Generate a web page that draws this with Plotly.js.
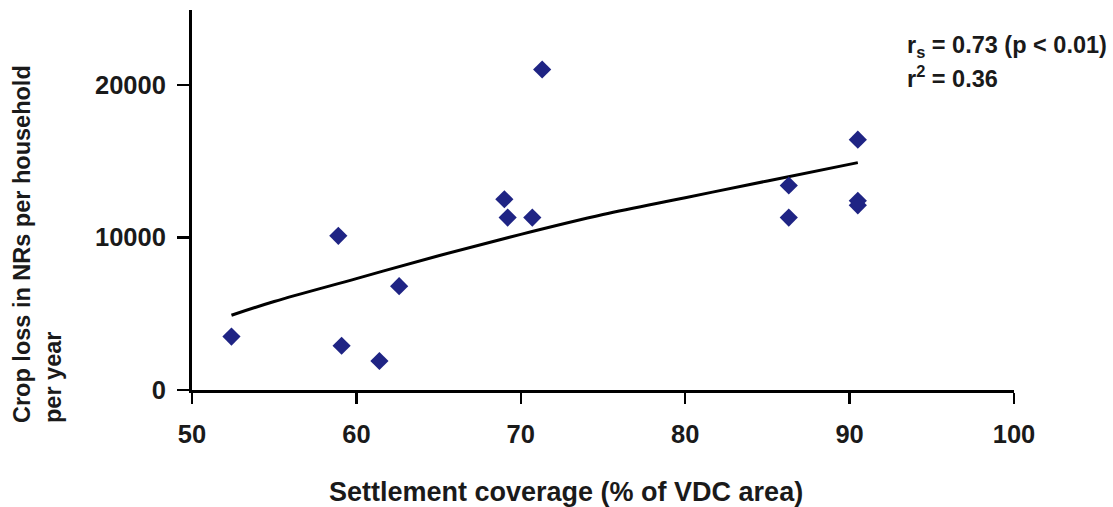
<!DOCTYPE html>
<html>
<head>
<meta charset="utf-8">
<script src="https://cdn.plot.ly/plotly-3.0.1.min.js"></script>
<style>html,body{margin:0;padding:0;background:#fff;}#chart{width:1113px;height:507px;}</style>
</head>
<body>
<div id="chart"></div>
<script>
// Observed points: settlement coverage (% of VDC area) vs crop loss (NRs per household per year)
var coverage = [52.4, 58.9, 59.1, 61.4, 62.6, 69.0, 69.2, 70.7, 71.3, 86.3, 86.3, 90.5, 90.5, 90.5];
var cropLoss = [3500, 10100, 2900, 1900, 6800, 12500, 11300, 11300, 21000, 13400, 11300, 16400, 12100, 12400];

// Fitted trend curve
var trendX = [52.4, 55, 60, 65, 70, 75, 80, 85, 90.5];
var trendY = [4900, 5800, 7300, 8800, 10200, 11500, 12600, 13700, 14900];

var xTicks = [50, 60, 70, 80, 90, 100];
var yTicks = [0, 10000, 20000];

var xTitle = 'Settlement coverage (% of VDC area)';
var yTitle = 'Crop loss in NRs per household<br>per year';
var statLine1 = 'r<sub>s</sub> = 0.73 (p &lt; 0.01)';
var statLine2 = 'r<sup>2</sup> = 0.36';

var FONT = 'Liberation Sans, Arial, Helvetica, sans-serif';
var TXT = '#1a1a1a';

function bold(s) { return '<b>' + s + '</b>'; }

var traces = [
  {
    x: trendX, y: trendY, type: 'scatter', mode: 'lines',
    line: {color: '#000000', width: 3, shape: 'spline'},
    hoverinfo: 'skip', showlegend: false
  },
  {
    x: coverage, y: cropLoss, type: 'scatter', mode: 'markers',
    marker: {symbol: 'diamond', size: 14, color: '#1f2484', line: {width: 0}},
    showlegend: false
  }
];

var layout = {
  width: 1113, height: 507,
  margin: {l: 192, r: 99, t: 10, b: 117, pad: 0},
  paper_bgcolor: '#ffffff', plot_bgcolor: '#ffffff',
  showlegend: false,
  font: {family: FONT, color: TXT},
  xaxis: {
    range: [50, 100], tickvals: xTicks, ticktext: xTicks.map(function (v) { return bold(String(v)); }),
    showline: true, linecolor: '#000000', linewidth: 3,
    ticks: 'outside', ticklen: 11, tickwidth: 2.5, tickcolor: '#000000',
    showgrid: false, zeroline: false,
    ticklabelstandoff: 8,
    tickfont: {family: FONT, size: 25.5, color: TXT},
    fixedrange: true
  },
  yaxis: {
    range: [0, 24900], tickvals: yTicks, ticktext: yTicks.map(function (v) { return bold(String(v)); }),
    showline: true, linecolor: '#000000', linewidth: 3,
    ticks: 'outside', ticklen: 12, tickwidth: 2.5, tickcolor: '#000000',
    showgrid: false, zeroline: false,
    ticklabelstandoff: 6,
    tickfont: {family: FONT, size: 25.5, color: TXT},
    fixedrange: true
  },
  annotations: [
    {
      text: bold(xTitle), xref: 'paper', yref: 'paper',
      x: 0.455, y: -0.268, xanchor: 'center', yanchor: 'middle',
      showarrow: false,
      font: {family: FONT, size: 27, color: TXT}
    },
    {
      text: bold(yTitle), xref: 'paper', yref: 'paper',
      x: -0.1873, y: -0.092, xanchor: 'center', yanchor: 'bottom',
      textangle: -90, align: 'left', showarrow: false,
      font: {family: FONT, size: 23.5, color: TXT}
    },
    {
      text: bold(statLine1), xref: 'paper', yref: 'paper',
      x: 0.8674, y: 0.905, xanchor: 'left', yanchor: 'middle',
      align: 'left', showarrow: false,
      font: {family: FONT, size: 23.5, color: TXT}
    },
    {
      text: bold(statLine2), xref: 'paper', yref: 'paper',
      x: 0.8674, y: 0.824, xanchor: 'left', yanchor: 'middle',
      align: 'left', showarrow: false,
      font: {family: FONT, size: 23.5, color: TXT}
    }
  ]
};

Plotly.newPlot('chart', traces, layout, {staticPlot: true, displayModeBar: false});
</script>
</body>
</html>
